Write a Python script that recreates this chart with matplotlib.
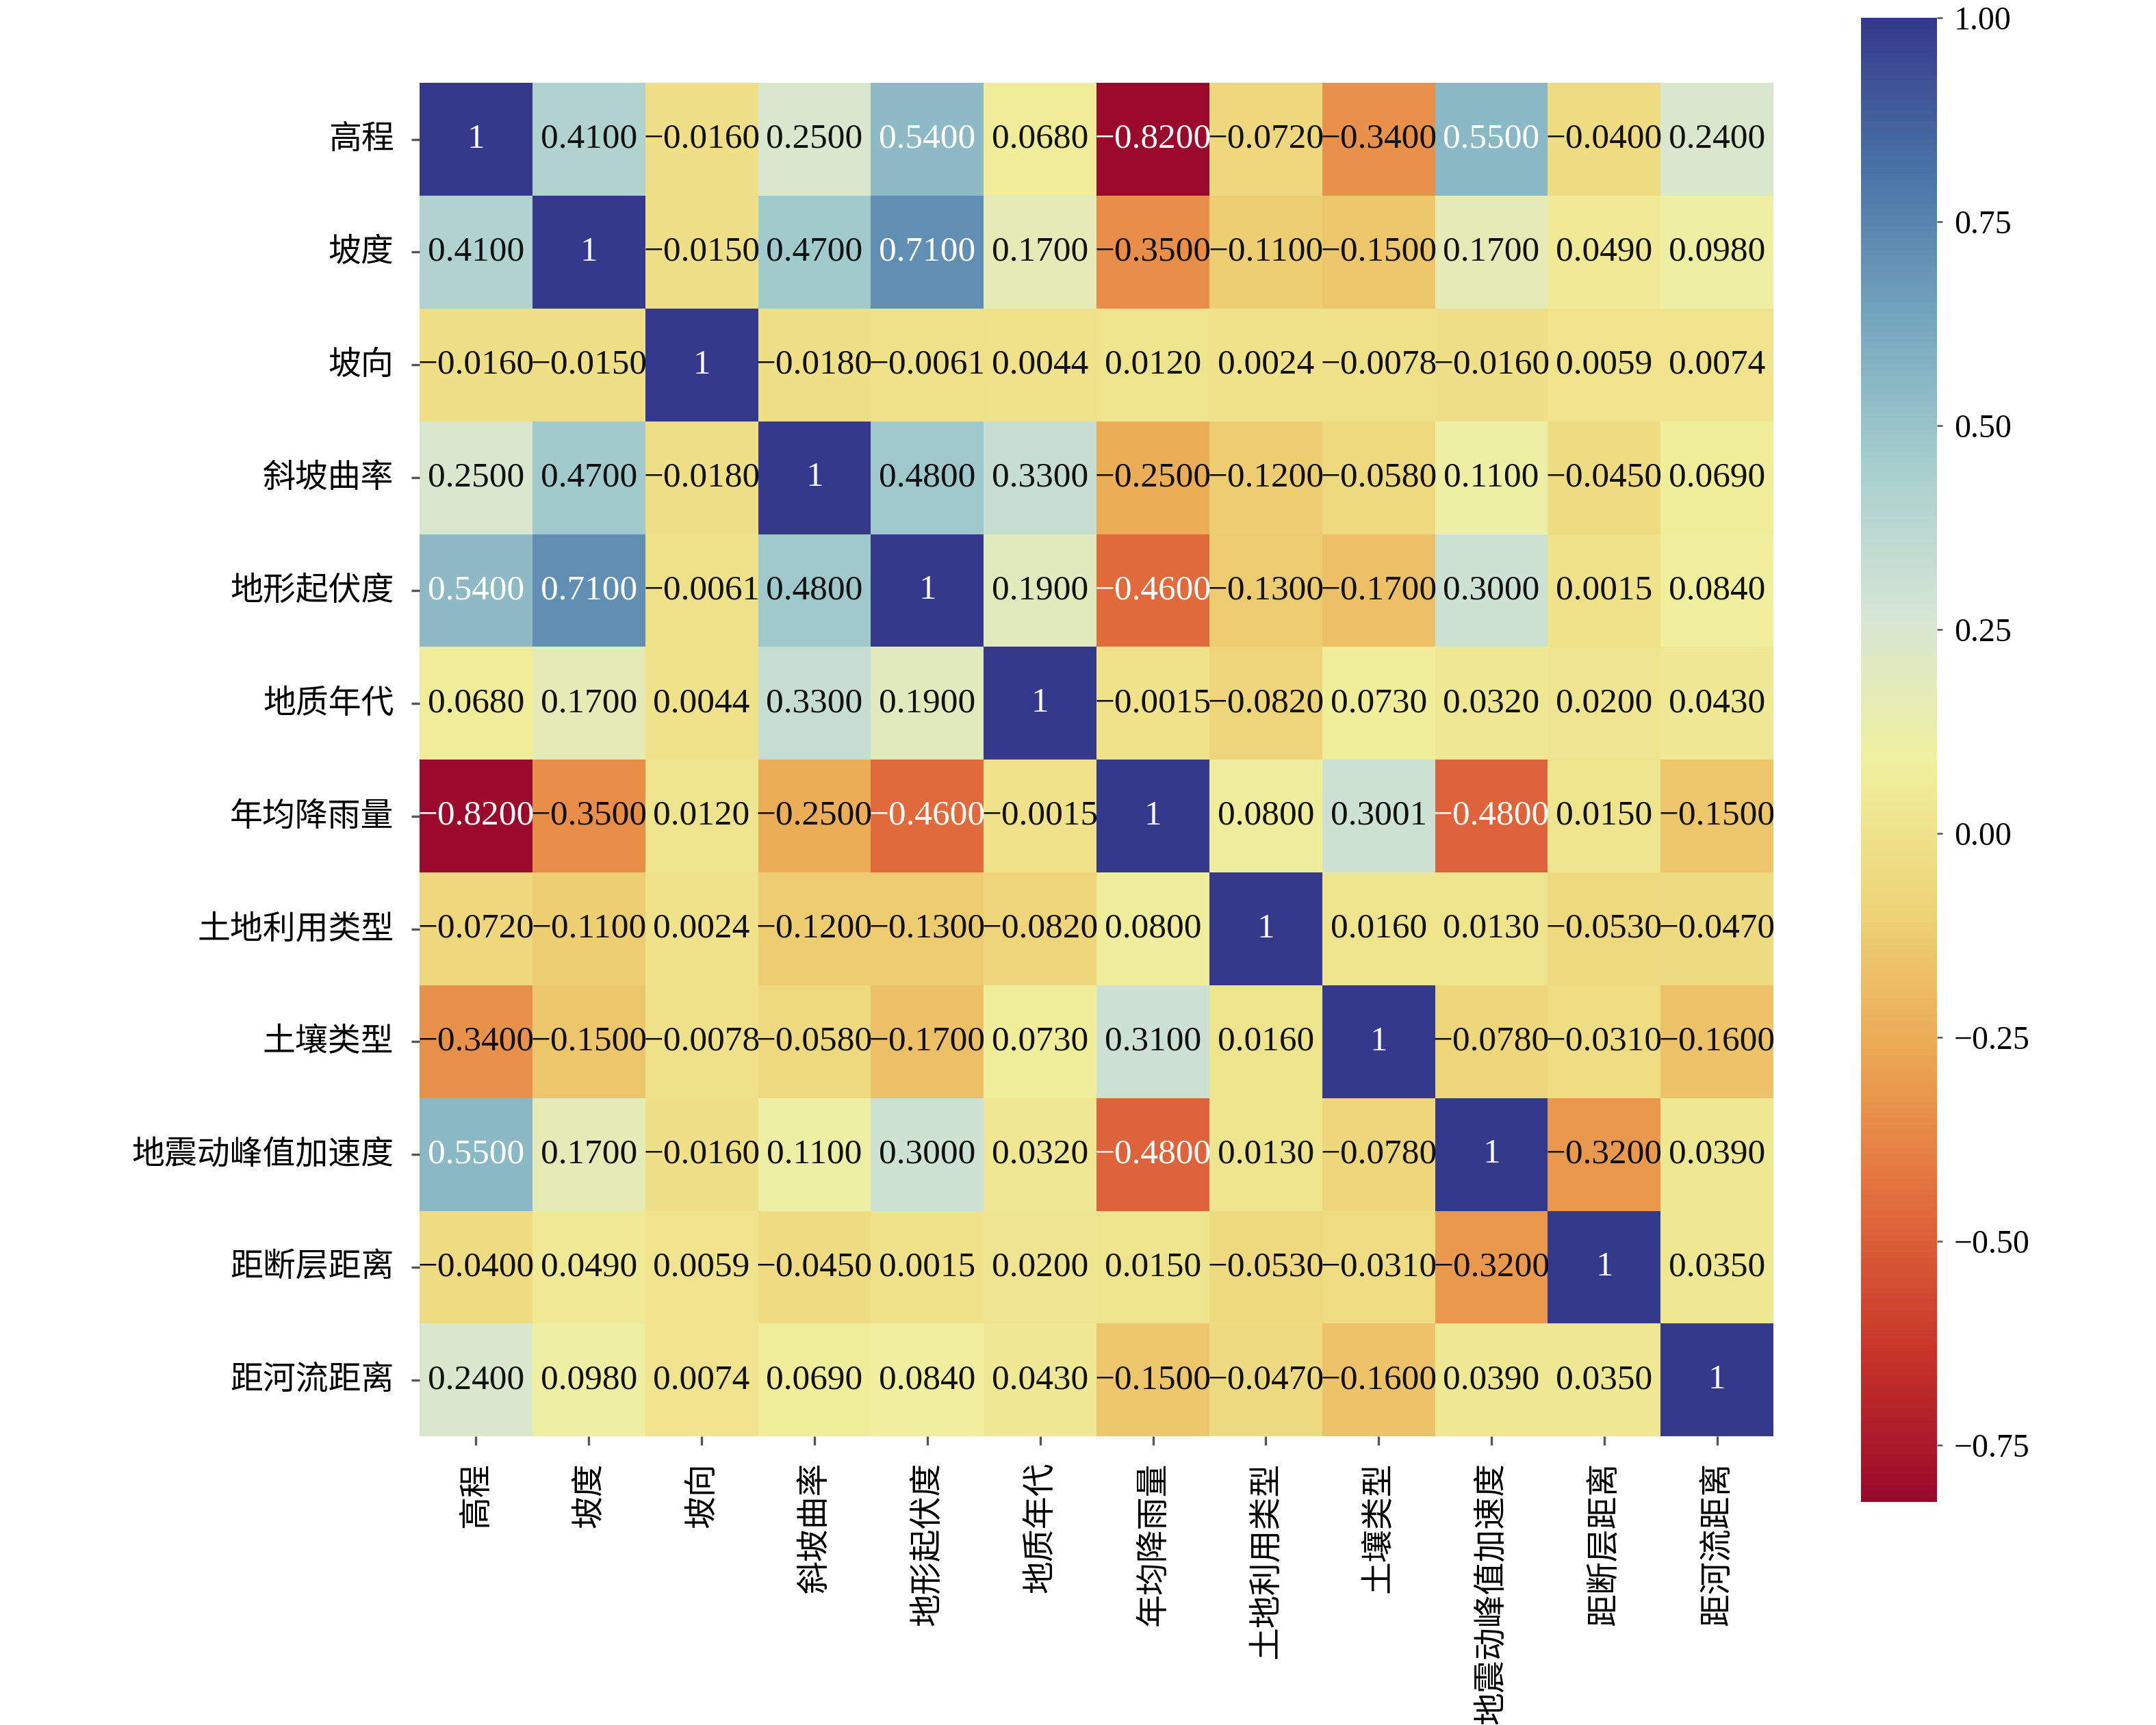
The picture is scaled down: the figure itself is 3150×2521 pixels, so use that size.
import numpy as np
import matplotlib
matplotlib.use("Agg")
import matplotlib.pyplot as plt
from matplotlib.colors import ListedColormap
import seaborn as sns

factors = ["高程", "坡度", "坡向", "斜坡曲率", "地形起伏度", "地质年代",
           "年均降雨量", "土地利用类型", "土壤类型", "地震动峰值加速度",
           "距断层距离", "距河流距离"]

corr = np.array([
    [1, 0.41, -0.016, 0.25, 0.54, 0.068, -0.82, -0.072, -0.34, 0.55, -0.04, 0.24],
    [0.41, 1, -0.015, 0.47, 0.71, 0.17, -0.35, -0.11, -0.15, 0.17, 0.049, 0.098],
    [-0.016, -0.015, 1, -0.018, -0.0061, 0.0044, 0.012, 0.0024, -0.0078, -0.016, 0.0059, 0.0074],
    [0.25, 0.47, -0.018, 1, 0.48, 0.33, -0.25, -0.12, -0.058, 0.11, -0.045, 0.069],
    [0.54, 0.71, -0.0061, 0.48, 1, 0.19, -0.46, -0.13, -0.17, 0.30, 0.0015, 0.084],
    [0.068, 0.17, 0.0044, 0.33, 0.19, 1, -0.0015, -0.082, 0.073, 0.032, 0.020, 0.043],
    [-0.82, -0.35, 0.012, -0.25, -0.46, -0.0015, 1, 0.080, 0.3001, -0.48, 0.015, -0.15],
    [-0.072, -0.11, 0.0024, -0.12, -0.13, -0.082, 0.080, 1, 0.016, 0.013, -0.053, -0.047],
    [-0.34, -0.15, -0.0078, -0.058, -0.17, 0.073, 0.31, 0.016, 1, -0.078, -0.031, -0.16],
    [0.55, 0.17, -0.016, 0.11, 0.30, 0.032, -0.48, 0.013, -0.078, 1, -0.32, 0.039],
    [-0.04, 0.049, 0.0059, -0.045, 0.0015, 0.020, 0.015, -0.053, -0.031, -0.32, 1, 0.035],
    [0.24, 0.098, 0.0074, 0.069, 0.084, 0.043, -0.15, -0.047, -0.16, 0.039, 0.035, 1],
])

cbar_ticks = [-0.75, -0.5, -0.25, 0.0, 0.25, 0.5, 0.75, 1.0]

# text turns white on the darker cells
WHITE_HI = 0.54
WHITE_LO = -0.45


def fmt(v):
    if v == 1:
        return "1"
    return f"{v:.4f}".replace("-", "\u2212")


def main():
    plt.rcParams['font.family'] = ['Liberation Serif', 'Noto Sans CJK SC']
    plt.rcParams['axes.unicode_minus'] = True

    # RdYlBu, muted like the printed figure
    base = plt.get_cmap('RdYlBu')(np.linspace(0, 1, 256))[:, :3]
    muted = base * 0.92 + 0.025
    gray = muted.mean(axis=1, keepdims=True)
    muted = 0.95 * muted + 0.05 * gray
    muted[:, 2] -= 0.1 * base[:, 0] * base[:, 1]
    cmap = ListedColormap(np.clip(muted, 0, 1))

    fig = plt.figure(figsize=(10.5, 2521 / 300), dpi=300)
    ax = fig.add_axes([0.1946, 0.1672, 0.6280, 0.7848])
    cax = fig.add_axes([0.8632, 0.1293, 0.0352, 0.8604])

    sns.heatmap(corr, ax=ax, cbar_ax=cax, cmap=cmap,
                vmin=corr.min(), vmax=1.0, square=True,
                xticklabels=factors, yticklabels=factors)

    n = len(factors)
    for i in range(n):
        for j in range(n):
            v = corr[i, j]
            dark = v == 1 or v >= WHITE_HI or v <= WHITE_LO
            ax.text(j + 0.5, i + 0.5, fmt(v), ha='center', va='center',
                    fontsize=12.3, color='white' if dark else '#111111')

    ax.tick_params(axis='both', length=3, width=0.8, pad=6,
                   labelsize=11.5, color='#555555')
    ax.set_xticklabels(factors, rotation=90, family='Noto Sans CJK SC',
                       fontsize=11.5)
    ax.set_yticklabels(factors, rotation=0, family='Noto Sans CJK SC',
                       fontsize=11.5)

    cax.set_yticks(cbar_ticks)
    cax.tick_params(length=2, width=0.6, pad=4, labelsize=11.5,
                    color='#555555')
    for sp in cax.spines.values():
        sp.set_visible(False)

    fig.savefig('out.png', dpi=300)


if __name__ == '__main__':
    main()
